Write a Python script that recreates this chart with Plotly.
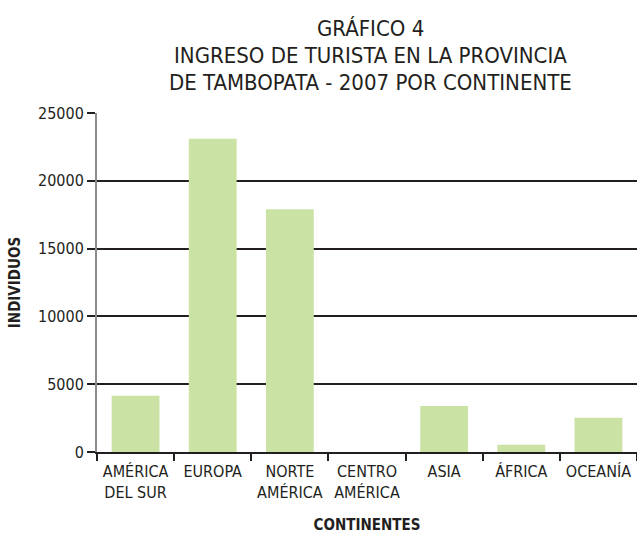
import plotly.graph_objects as go

# datos
continentes = ["AMÉRICA<br>DEL SUR", "EUROPA", "NORTE<br>AMÉRICA", "CENTRO<br>AMÉRICA",
               "ASIA", "ÁFRICA", "OCEANÍA"]
individuos = [4140, 23100, 17900, 0, 3400, 540, 2520]

y_ticks = [0, 5000, 10000, 15000, 20000, 25000]
y_labels = ["0", "5000", "10000", "15000", "20000", "25000"]

titulo = ["GRÁFICO 4",
          "INGRESO DE TURISTA EN LA PROVINCIA",
          "DE TAMBOPATA - 2007 POR CONTINENTE"]

fuente = "Liberation Sans Narrow, DejaVu Sans Condensed, Arial Narrow, sans-serif"

fig = go.Figure(
    data=go.Bar(
        x=continentes,
        y=individuos,
        marker=dict(color="#cbe2a5", line=dict(width=0)),
        name="Individuos",
    )
)

fig.update_layout(
    width=637,
    height=534,
    paper_bgcolor="white",
    plot_bgcolor="white",
    margin=dict(l=97, r=0, t=113, b=82),
    bargap=0.38,
    showlegend=False,
    font=dict(family=fuente, size=16, color="#231f20"),
)

# titulo en tres lineas, mas juntas que el titulo normal
for i, linea in enumerate(titulo):
    fig.add_annotation(
        text=linea,
        xref="paper", yref="paper",
        x=0.507, y=1.2493 - i * 0.0796,
        xanchor="center", yanchor="middle",
        showarrow=False,
        font=dict(family=fuente, size=22, color="#231f20"),
    )

fig.update_xaxes(
    title=dict(text="<b>CONTINENTES</b>", font=dict(size=15), standoff=19),
    automargin=False,
    showline=True,
    linecolor="#231f20",
    linewidth=1.5,
    ticks="outside",
    tickson="boundaries",
    ticklen=7,
    tickcolor="#231f20",
    tickwidth=1.5,
    ticklabelstandoff=4,
    showgrid=False,
)

fig.update_yaxes(
    title=dict(text="<b>INDIVIDUOS</b>", font=dict(size=15), standoff=14),
    automargin=False,
    range=[0, 25000],
    tickvals=y_ticks,
    ticktext=y_labels,
    showline=True,
    linecolor="#8c8c8c",
    linewidth=2,
    ticks="outside",
    ticklen=8,
    tickcolor="#231f20",
    tickwidth=1.5,
    showgrid=True,
    gridcolor="#231f20",
    gridwidth=1.5,
    zeroline=False,
)

fig.write_html("out.html", config={"displayModeBar": False},
               post_script="document.body.style.margin='0';")
